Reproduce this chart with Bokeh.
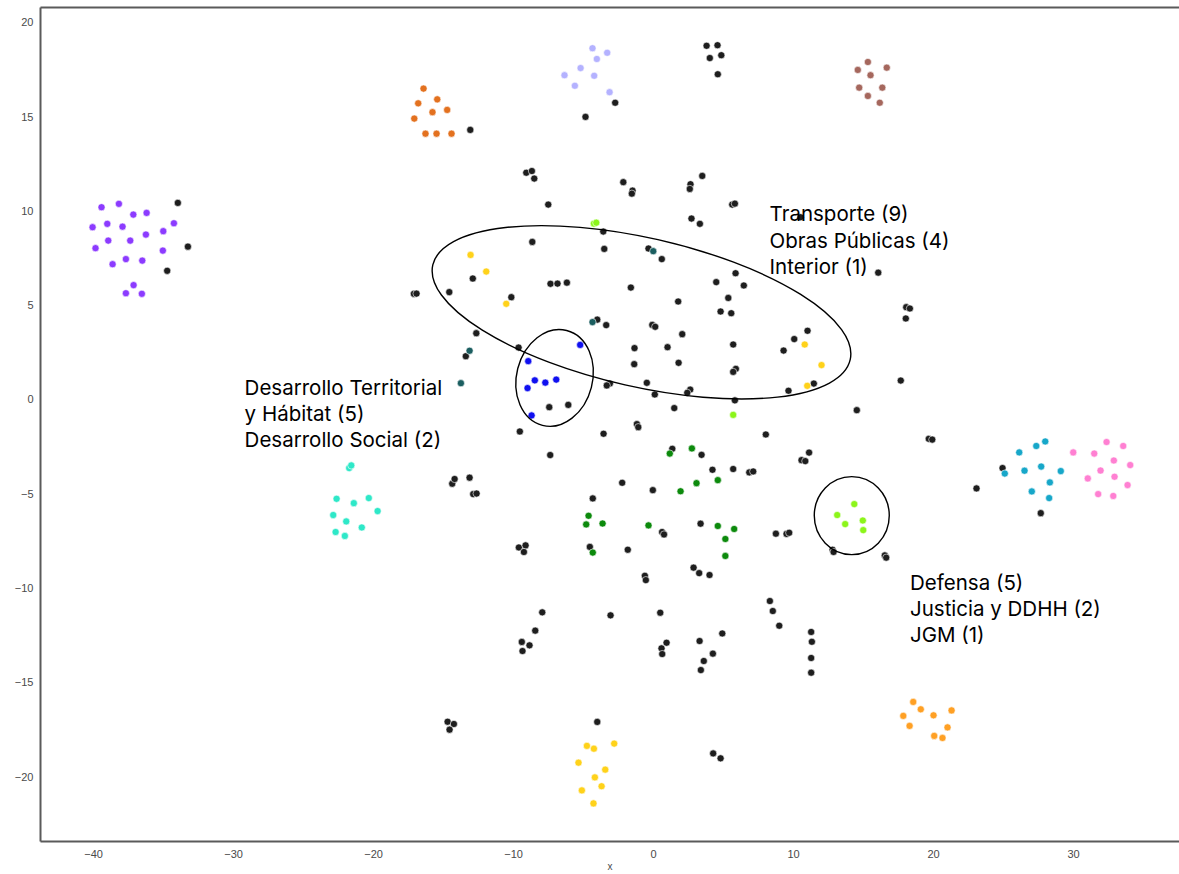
from bokeh.plotting import figure
from bokeh.models import Range1d, FixedTicker, LinearAxis
from bokeh.core.properties import value
from bokeh.embed import file_html
from bokeh.resources import INLINE

# ---------------- data ----------------
black_x = [-33.98, -33.26, -34.74, -13.09, -2.74, -4.86, 3.79, 4.57, 4.02, 4.84,
           4.59, 16.05, 10.50, -9.09, -8.69, -8.52, -2.16, -1.50, -1.55, 2.64,
           2.59, 3.48, -7.52, 5.62, 5.81, 2.71, 3.31, -3.59, -8.66, -3.52,
           -0.36, 0.59, -12.91, -7.36, -6.86, -6.19, -14.59, -17.12, -16.93, -1.62,
           5.86, 4.48, 6.45, 5.34, 1.76, 4.79, 5.55, -10.16, -4.02, -3.38,
           -0.09, 0.12, 2.05, -12.66, 11.00, 10.05, 5.69, 9.29, -1.36, 1.00,
           -13.41, -9.64, -1.38, 1.79, 5.88, 5.69, -3.12, -3.34, -0.48, 0.09,
           2.62, 2.41, 9.64, 11.45, 5.81, -7.45, -6.09, 1.48, -9.55, -3.57,
           -1.19, -1.09, -7.38, -14.38, -14.21, -13.14, -12.88, -12.64, -2.24, -0.05,
           -4.34, 1.34, 3.43, 4.21, 5.69, 6.84, 7.12, 8.02, 11.11, 10.57,
           10.84, 0.61, 0.75, 3.36, 8.74, 9.50, 9.69, -4.55, -1.84, -9.62,
           -9.14, -9.26, -0.62, -0.55, 2.86, 3.26, 4.00, 18.05, 18.31, 18.02,
           17.66, 14.52, 19.66, 19.91, 23.07, 24.93, 27.66, 12.79, 12.86, 16.52,
           16.62, -7.95, -8.45, -9.41, -8.86, -9.36, -3.07, 0.48, 0.93, 0.57,
           0.62, 3.29, 4.91, 3.59, 4.24, 3.38, 8.31, 8.52, 8.98, 11.26,
           11.31, 11.26, 11.26, -14.71, -14.26, -14.57, -4.02, 4.26, 4.79]
black_y = [10.42, 8.10, 6.82, 14.29, 15.73, 14.98, 18.75, 18.78, 18.10, 18.25,
           17.24, 6.72, 9.66, 12.02, 12.11, 11.71, 11.52, 11.07, 10.91, 11.41,
           11.16, 11.85, 10.33, 10.33, 10.38, 9.59, 9.31, 8.90, 8.35, 7.98,
           8.00, 7.44, 6.41, 6.13, 6.14, 6.19, 5.69, 5.60, 5.61, 5.93,
           6.69, 6.22, 6.04, 5.38, 5.19, 4.66, 4.57, 5.42, 4.23, 3.94,
           3.95, 3.85, 3.46, 3.51, 3.64, 3.20, 2.91, 2.59, 2.72, 2.77,
           2.29, 2.75, 1.87, 1.94, 1.62, 1.46, 0.84, 0.74, 0.88, 0.26,
           0.52, 0.35, 0.46, 0.84, -0.05, -0.41, -0.29, -0.46, -1.70, -1.82,
           -1.31, -1.47, -2.95, -4.47, -4.22, -4.15, -5.02, -4.99, -4.42, -4.81,
           -5.25, -2.62, -2.94, -3.73, -3.69, -3.87, -3.82, -1.86, -2.82, -3.22,
           -3.27, -7.03, -7.16, -6.59, -7.12, -7.13, -7.07, -7.82, -7.97, -7.85,
           -7.74, -8.09, -9.35, -9.58, -8.92, -9.21, -9.31, 4.89, 4.82, 4.29,
           1.00, -0.57, -2.09, -2.13, -4.72, -3.64, -6.03, -7.97, -8.09, -8.27,
           -8.39, -11.29, -12.26, -12.86, -13.04, -13.34, -11.45, -11.31, -12.90, -13.20,
           -13.50, -12.81, -12.41, -13.87, -13.48, -14.35, -10.69, -11.22, -12.00, -12.33,
           -12.85, -13.71, -14.49, -17.09, -17.21, -17.51, -17.10, -18.77, -19.03]

purple_x = [-39.43, -38.19, -37.16, -36.21, -40.07, -39.02, -37.93, -35.02, -34.26, -38.95,
            -37.38, -36.26, -39.86, -35.05, -38.64, -37.69, -36.52, -37.14, -37.69, -36.55]
purple_y = [10.19, 10.37, 9.80, 9.89, 9.13, 9.31, 9.16, 8.92, 9.34, 8.42,
            8.42, 8.74, 8.02, 7.89, 7.17, 7.44, 7.36, 6.06, 5.63, 5.60]

orange_x = [-16.43, -15.45, -16.81, -14.74, -15.79, -17.09, -16.29, -15.50, -14.43]
orange_y = [16.48, 15.91, 15.70, 15.35, 15.23, 14.89, 14.09, 14.09, 14.09]

lavender_x = [-4.36, -3.31, -4.05, -5.21, -6.36, -4.24, -5.62, -3.14]
lavender_y = [18.62, 18.38, 18.05, 17.57, 17.19, 17.16, 16.63, 16.29]

brown_x = [15.31, 14.59, 16.66, 15.50, 14.69, 16.34, 15.31, 16.16]
brown_y = [17.89, 17.47, 17.59, 17.19, 16.53, 16.53, 16.09, 15.73]

teal_x = [-0.02, -4.36, -13.14, -13.76]
teal_y = [7.86, 4.10, 2.58, 0.86]

yellow_x = [-13.07, -11.95, -10.52, 10.80, 12.00, 10.98,
            -4.76, -4.26, -2.81, -5.36, -3.45, -4.19, -3.71, -5.12, -4.29]
yellow_y = [7.66, 6.78, 5.07, 2.91, 1.82, 0.72,
            -18.37, -18.52, -18.25, -19.26, -19.63, -20.04, -20.51, -20.73, -21.42]

lime_x = [-4.26, -4.09, 5.69, 14.34, 13.12, 14.95, 13.69, 14.98]
lime_y = [9.32, 9.37, -0.82, -5.55, -6.13, -6.42, -6.61, -6.93]

blue_x = [-5.24, -8.95, -8.48, -7.73, -6.95, -9.00, -8.71]
blue_y = [2.89, 2.03, 1.01, 0.89, 1.05, 0.60, -0.85]

green_x = [1.16, 2.74, 3.07, 1.93, 4.59, -4.64, -4.81, -3.64, -0.36, 4.59, 5.76, 5.13, 5.13, -4.34]
green_y = [-2.87, -2.60, -4.44, -4.87, -4.28, -6.17, -6.63, -6.58, -6.68, -6.71, -6.87, -7.40, -8.30, -8.12]

cyan_x = [27.98, 27.34, 26.12, 27.69, 26.50, 29.09, 25.09, 28.31, 27.02, 28.26]
cyan_y = [-2.23, -2.47, -2.81, -3.56, -3.78, -3.80, -3.93, -4.40, -4.88, -5.23]

pink_x = [32.36, 33.55, 29.98, 31.48, 32.88, 34.05, 31.93, 32.93, 31.02, 33.86, 31.76, 32.84]
pink_y = [-2.26, -2.47, -2.81, -2.87, -3.24, -3.48, -3.77, -4.10, -4.19, -4.54, -5.02, -5.12]

amber_x = [18.55, 19.09, 17.84, 20.00, 21.29, 18.29, 21.00, 20.05, 20.64]
amber_y = [-16.04, -16.43, -16.78, -16.75, -16.49, -17.31, -17.39, -17.84, -17.95]

aqua_x = [-21.74, -21.59, -22.64, -21.41, -20.34, -19.71, -22.88, -21.95, -20.84, -22.71, -22.05]
aqua_y = [-3.64, -3.50, -5.27, -5.50, -5.23, -5.92, -6.13, -6.47, -6.79, -7.03, -7.24]

x_ticks = [-40, -30, -20, -10, 0, 10, 20, 30]
x_tick_labels = ["\u221240", "\u221230", "\u221220", "\u221210", "0", "10", "20", "30"]
y_ticks = [-20, -15, -10, -5, 0, 5, 10, 15, 20]
y_tick_labels = ["\u221220", "\u221215", "\u221210", "\u22125", "0", "5", "10", "15", "20"]

note_transporte = ["Transporte (9)", "Obras Públicas (4)", "Interior (1)"]
note_desarrollo = ["Desarrollo Territorial", "y Hábitat (5)", "Desarrollo Social (2)"]
note_defensa = ["Defensa (5)", "Justicia y DDHH (2)", "JGM (1)"]

# ---------------- figure ----------------
p = figure(width=1179, height=874,
           x_range=Range1d(-43.79, 37.57), y_range=Range1d(-23.44, 20.78),
           output_backend="svg", toolbar_location=None,
           min_border_left=40, min_border_right=0, min_border_top=7, min_border_bottom=0)
p.xgrid.visible = False
p.ygrid.visible = False
p.outline_line_color = None

frame_col = "#5a5a5a"
for ax, ticks, labels in ((p.xaxis[0], x_ticks, x_tick_labels), (p.yaxis[0], y_ticks, y_tick_labels)):
    ax.ticker = FixedTicker(ticks=ticks)
    ax.major_label_overrides = dict(zip(ticks, labels))
    ax.axis_line_color = frame_col
    ax.axis_line_width = 2
    ax.major_tick_line_color = None
    ax.minor_tick_line_color = None
    ax.major_tick_out = 0
    ax.major_tick_in = 0
    ax.minor_tick_out = 0
    ax.minor_tick_in = 0
    ax.major_label_text_font = "Liberation Sans"
    ax.major_label_text_font_size = "11px"
    ax.major_label_text_color = "#4a4a4a"
p.xaxis.major_label_standoff = 8
p.yaxis.major_label_standoff = 7
p.xaxis.axis_label = "x"
p.xaxis.axis_label_standoff = 0
p.xaxis.axis_label_text_font = "Liberation Sans"
p.xaxis.axis_label_text_font_size = "10px"
p.xaxis.axis_label_text_font_style = "normal"
p.xaxis.axis_label_text_color = "#4a4a4a"

# top frame line only (no right border, as in the reference)
top_axis = LinearAxis(ticker=FixedTicker(ticks=[]), axis_line_color=frame_col, axis_line_width=2,
                      major_tick_line_color=None, minor_tick_line_color=None,
                      major_tick_out=0, minor_tick_out=0, major_tick_in=0, minor_tick_in=0,
                      major_label_standoff=0, major_label_text_font_size="0px")
p.add_layout(top_axis, "above")

def pts(xs, ys, color):
    p.scatter(xs, ys, size=7.2, fill_color=color, line_color="white", line_width=0.6)

pts(black_x, black_y, "#1e1e1e")
pts(purple_x, purple_y, "#8c3bff")
pts(orange_x, orange_y, "#e3711f")
pts(lavender_x, lavender_y, "#b4b2ff")
pts(brown_x, brown_y, "#a5675d")
pts(teal_x, teal_y, "#1b5e60")
pts(yellow_x, yellow_y, "#ffd21a")
pts(lime_x, lime_y, "#8cf51a")
pts(blue_x, blue_y, "#1010f0")
pts(green_x, green_y, "#0c8a0c")
pts(cyan_x, cyan_y, "#17a7c9")
pts(pink_x, pink_y, "#ff80d2")
pts(amber_x, amber_y, "#ffa024")
pts(aqua_x, aqua_y, "#2ee8c8")

# highlight ellipses (screen-sized)
p.ellipse(x=[-0.86, -7.07, 14.16], y=[4.62, 1.14, -6.16],
          width=[428, 76, 75], height=[149, 98, 78], angle=[-0.223, -0.25, 0.0],
          width_units="screen", height_units="screen",
          fill_color=None, line_color="black", line_width=1.4)

def note(lines, x, ys):
    p.text(x=[x] * len(lines), y=ys, text=lines, text_font=value("Inter"),
           text_font_size=value("20.5px"), text_color="#000000",
           text_baseline="alphabetic", text_align="left")

note(note_transporte, 8.29, [9.84, 8.44, 7.06])
note(note_desarrollo, -29.21, [0.62, -0.74, -2.12])
note(note_defensa, 18.32, [-9.70, -11.07, -12.45])

open("out.html", "w").write(file_html(p, INLINE))
